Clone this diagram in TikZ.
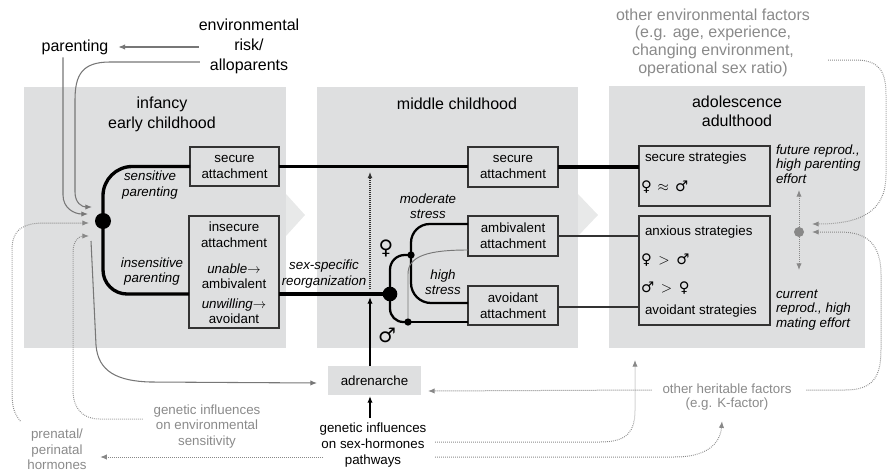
\documentclass[tikz,border=0pt]{standalone}
\usepackage{fontspec}
\setmainfont{Liberation Sans}
\newfontfamily\symfont{DejaVu Sans}
\usetikzlibrary{arrows.meta,calc}

\definecolor{panelgray}{HTML}{DEDFE0}
\definecolor{chevrongray}{HTML}{E8E9E9}
\definecolor{softtext}{HTML}{8A8A8A}
\definecolor{softline}{HTML}{777777}
\definecolor{dotgray}{HTML}{888888}
\definecolor{framegray}{HTML}{333333}

\newcommand{\Fsym}{{\symfont ♀}}
\newcommand{\Msym}{{\symfont ♂}}

\begin{document}
\begin{tikzpicture}[x=0.75pt,y=-0.75pt,
  every node/.style={inner sep=0pt,outer sep=0pt},
  big/.style={font=\fontsize{12}{14.5}\selectfont,align=center},
  small/.style={font=\fontsize{10}{12}\selectfont,align=center},
  note/.style={font=\fontsize{10}{11.5}\selectfont\itshape,align=center},
  soft/.style={text=softtext},
  attbox/.style={draw=framegray,line width=0.8pt,font=\fontsize{10}{12}\selectfont,align=center},
  hub/.style={circle,fill=black},
  mainline/.style={line width=2.5pt,black},
  branch/.style={line width=1.7pt,black},
  outlink/.style={line width=0.9pt,framegray},
  thinlink/.style={line width=0.7pt,draw=softline},
  greyarrow/.style={draw=softline,line width=0.8pt,-{Latex[length=5pt,width=4pt]}},
  dotarrow/.style={draw=dotgray,line width=0.75pt,dash pattern=on 0.6pt off 0.9pt,-{Latex[length=5pt,width=4pt]}},
  darkdots/.style={draw=framegray,line width=0.8pt,dash pattern=on 0.6pt off 0.9pt,-{Latex[length=4.5pt,width=3.6pt]}},
  blackarrow/.style={draw=black,line width=1.1pt,-{Latex[length=5pt,width=4pt]}},
]
\useasboundingbox (0,0) rectangle (893,475);

% life-stage panels with their chevrons
\fill[panelgray] (24,87) rectangle (286,348);
\fill[chevrongray] (286,194) -- (305,215) -- (286,236) -- cycle;
\fill[panelgray] (317,87) rectangle (578,348);
\fill[chevrongray] (578,194) -- (598,215) -- (578,236) -- cycle;
\fill[panelgray] (609,86) rectangle (865,348);

\node[big] (stage1) at (162,114.5) {infancy\\early childhood};
\node[big] (stage2) at (457,104) {middle childhood};
\node[big] (stage3) at (737,111.5) {adolescence\\adulthood};

% environmental inputs at the top
\node[big] (parenting) at (75,47) {parenting};
\node[big,font=\fontsize{12}{15}\selectfont] (envrisk) at (249,46.5) {environmental\\risk/\\alloparents};
\node[big,soft,font=\fontsize{12}{13.3}\selectfont] (otherenv) at (713,42.5)
  {other environmental factors\\(e.g. age, experience,\\changing environment,\\operational sex ratio)};

% attachment boxes
\node[attbox,minimum width=66.75pt,minimum height=29.25pt] (sec1) at (234.5,166.5) {secure\\attachment};
\node[attbox,minimum width=67.5pt,minimum height=84pt] (insec) at (234,272) {};
\node[small] (insecA) at (234,235) {insecure\\attachment};
\node[small,font=\fontsize{10}{11}\selectfont] (insecB) at (234,276) {\textit{unable}$\rightarrow$\\ambivalent};
\node[small,font=\fontsize{10}{11}\selectfont] (insecC) at (234,311) {\textit{unwilling}$\rightarrow$\\avoidant};

\node[attbox,minimum width=67.5pt,minimum height=30pt] (sec2) at (513,167) {secure\\attachment};
\node[attbox,minimum width=67.5pt,minimum height=30pt] (amb) at (513,236) {ambivalent\\attachment};
\node[attbox,minimum width=67.5pt,minimum height=29.25pt] (avo) at (513,305.5) {avoidant\\attachment};

\node[attbox,minimum width=98.25pt,minimum height=45pt] (secstrat) at (704.5,176) {};
\node[attbox,minimum width=98.25pt,minimum height=81.75pt] (anxstrat) at (704.5,270.5) {};
\node[small,anchor=west] (secstratA) at (645,158) {secure strategies};
\node[anchor=west,font=\fontsize{11}{12}\selectfont] (secstratB) at (641,187) {\Fsym\hspace{4.5pt}$\approx$\hspace{4.5pt}\Msym};
\node[small,anchor=west] (anxA) at (645,232) {anxious strategies};
\node[anchor=west,font=\fontsize{11}{12}\selectfont] (anxB) at (641,260) {\Fsym\hspace{5pt}$>$\hspace{5pt}\Msym};
\node[anchor=west,font=\fontsize{11}{12}\selectfont] (anxC) at (641,288) {\Msym\hspace{5pt}$>$\hspace{5pt}\Fsym};
\node[small,anchor=west] (anxD) at (645,311) {avoidant strategies};

\node[fill=panelgray,minimum width=69.75pt,minimum height=21.75pt,font=\fontsize{10}{12}\selectfont] (adren) at (374.5,380.5) {adrenarche};

% labels on the pathways
\node[note] (sensitive) at (150,185) {sensitive\\parenting};
\node[note] (insensitive) at (152,271.5) {insensitive\\parenting};
\node[note] (sexspec) at (324,274) {sex-specific\\reorganization};
\node[note] (moderate) at (428,206.5) {moderate\\stress};
\node[note] (high) at (443,282.5) {high\\stress};
\node[note,font=\fontsize{10}{10.75}\selectfont\itshape,align=left,anchor=west] (future) at (776,164) {future reprod.,\\high parenting\\effort};
\node[note,font=\fontsize{10}{10.75}\selectfont\itshape,align=left,anchor=west] (current) at (776,310) {current\\reprod., high\\mating effort};
\node[font=\fontsize{15}{15}\symfont] (femsym) at (386,248) {♀};
\node[font=\fontsize{15}{15}\symfont] (malsym) at (387,335) {♂};

% heritable influences at the bottom
\node[small,soft,font=\fontsize{10}{11.6}\selectfont] (genenv) at (207,426.5) {genetic influences\\on environmental\\sensitivity};
\node[small,font=\fontsize{10}{12}\selectfont] (gensex) at (373,445) {genetic influences\\on sex-hormones\\pathways};
\node[small,soft,font=\fontsize{10}{11.6}\selectfont] (prenatal) at (57,449.5) {prenatal/\\perinatal\\hormones};
\node[small,soft,font=\fontsize{10}{10.5}\selectfont] (otherher) at (727,397) {other heritable factors\\(e.g. K-factor)};

% junctions
\node[hub,minimum size=12pt] (hub1) at (103,221) {};
\node[hub,minimum size=11pt] (hub2) at (390,294) {};
\node[hub,minimum size=5.5pt] (fhub) at (411,255) {};
\node[hub,minimum size=5.5pt] (mhub) at (408,322) {};
\node[circle,fill=dotgray,minimum size=7.5pt] (tradeoff) at (799,232) {};

% arrow ends around the first junction and elsewhere
\coordinate (inAllo) at (92,207);
\coordinate (inPar) at (88,214);
\coordinate (inPre) at (89,223);
\coordinate (inGen) at (89,236);
\coordinate (avoOut) at ($(avo.east)+(0,1.5)$);

% main attachment pathways
\draw[mainline,rounded corners=22pt] (hub1.center) |- (sec1.west);
\draw[mainline,rounded corners=18pt] (hub1.center) |- (insec.west |- hub2.center);
\draw[mainline] (insec.east |- hub2.center) -- (hub2.center);
\draw[mainline] (sec1.east) -- (sec1.east -| sec2.west);
\draw[mainline] (sec2.east) -- (sec2.east -| secstrat.west);

\draw[branch,rounded corners=11pt] (hub2.center) |- (fhub.center);
\draw[branch,rounded corners=10pt] (hub2.center) |- (mhub.center);
\draw[branch,rounded corners=14pt] (fhub.center) |- ($(amb.north west)+(0,8)$);
\draw[branch,rounded corners=15pt] (fhub.center) |- ($(avo.north west)+(0,17)$);
\draw[branch] (mhub.center) -- (mhub.center -| avo.west);
\draw[thinlink] (mhub.north) -- ($(mhub.center)+(0,-48)$) .. controls +(0,-18) and +(-40,0) .. ($(amb.south west)+(0,-6)$);

\draw[outlink] (amb.east) -- (amb.east -| anxstrat.west);
\draw[outlink] (avoOut) -- (avoOut -| anxstrat.west);

% environmental influences on the first junction
\draw[greyarrow] (envrisk.west |- parenting.east) -- ($(parenting.east)+(10,0)$);
\draw[greyarrow] ($(envrisk.west)+(1,15.5)$) -- (110,62) .. controls (82,62) and (75,75) .. (75,100)
  -- (75,192) .. controls (75,203) and (82,207) .. (inAllo);
\draw[greyarrow] ($(parenting.south)+(-12,3)$) -- (63,195) .. controls (63,208) and (74,214) .. (inPar);
\draw[dotarrow] ($(prenatal.north west)+(-7,-8)$) .. controls (13,412) and (12,405) .. (12,390)
  -- (12,250) .. controls (12,230) and (22,223) .. (45,223) -- (inPre);
\draw[dotarrow] ($(genenv.west)+(-11,-7.5)$) -- (100,419) .. controls (82,419) and (73,408) .. (73,390)
  -- (73,252) .. controls (73,241) and (79,236) .. (inGen);
\draw[greyarrow] (91,241) -- (96,345) .. controls (98,372) and (118,381) .. (150,382)
  -- ($(adren.west)+(-11,2.5)$);

% hormonal pathway
\draw[blackarrow] (370,418) -- ($(adren.south)+(-4.5,1)$);
\draw[blackarrow] ($(adren.north)+(-4.5,0)$) -- ($(adren.north |- hub2.center)+(-4.5,3)$);
\draw[darkdots] ($(adren.north |- hub2.center)+(-4.5,-5)$) -- (370,172);

% heritable influences (dotted)
\draw[dotarrow] ($(otherher.west)+(-11,-7)$) -- ($(adren.east)+(7,10.5)$);
\draw[dotarrow] (323,457) -- ($(prenatal.east)+(13.5,7.5)$);
\draw[dotarrow] (435,442) -- (600,442) .. controls (627,442) and (635,432) .. (635,410) -- (635,360);
\draw[dotarrow] (435,457) -- (675,457) .. controls (705,457) and (720,445) .. ($(otherher.south)+(-5,11)$);
\draw[dotarrow] ($(otherher.east)+(15,-7)$) -- (845,390) .. controls (872,390) and (881,378) .. (881,350)
  -- (881,275) .. controls (881,245) and (868,232) .. (840,232) -- ($(tradeoff.center)+(13,0)$);
\draw[dotarrow] (828,60) -- (855,60) .. controls (880,60) and (886,72) .. (886,95)
  -- (886,175) .. controls (886,212) and (860,224) .. ($(tradeoff.center)+(13,-8)$);

% parenting / mating trade-off
\draw[dotarrow] (tradeoff.north) -- (799,190);
\draw[dotarrow] (tradeoff.south) -- (799,270);
\end{tikzpicture}
\end{document}
